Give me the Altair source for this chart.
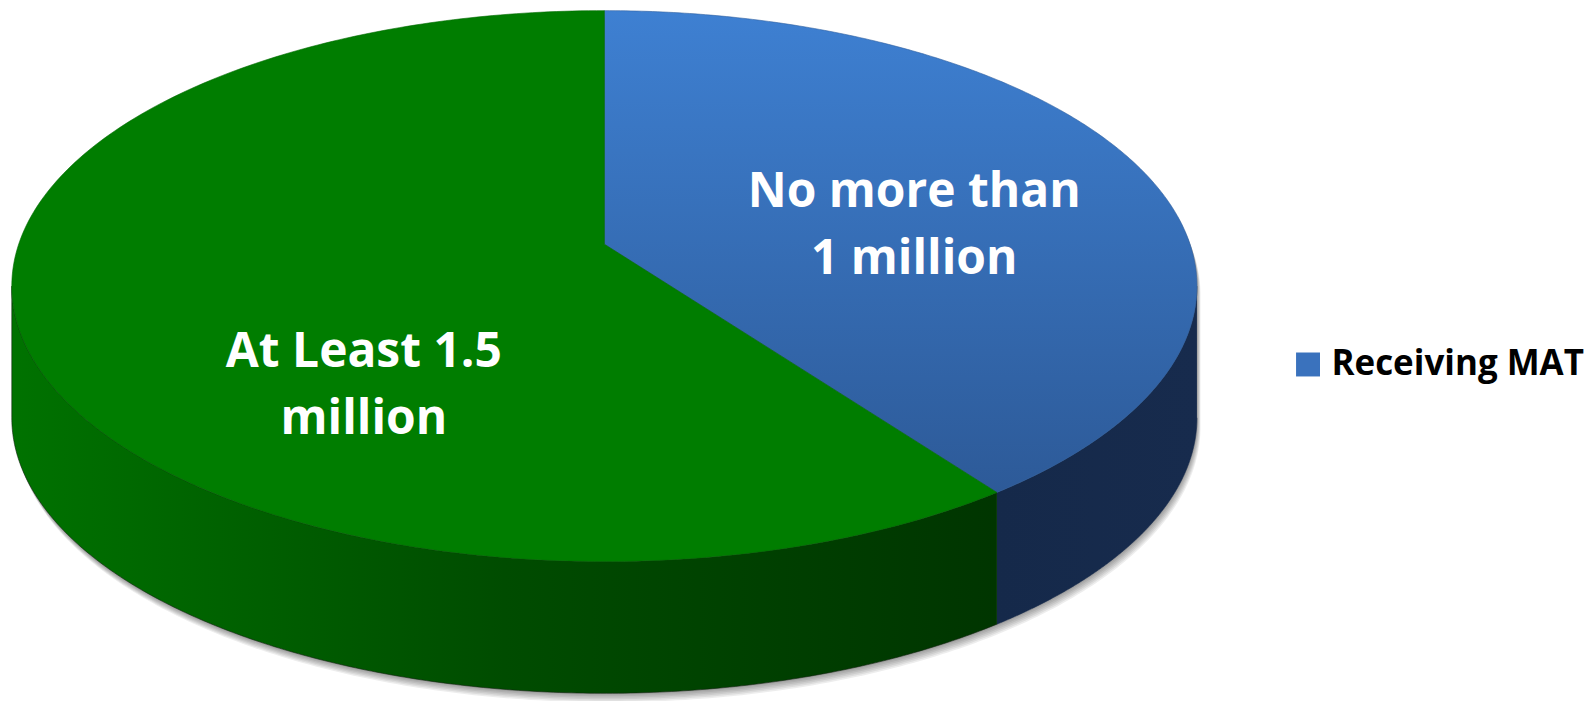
import numpy as np
import pandas as pd
import altair as alt

# ---------------- data ----------------
categories = ["No more than 1 million", "At Least 1.5 million"]
values = [1.0, 1.5]                      # millions of people
label_lines = [["No more than", "1 million"], ["At Least 1.5", "million"]]
series_name = ["Receiving MAT"]

# ---------------- layout (pie geometry, pixels in plot space) ----------------
W, H = 1577, 685
CX, CY = 596.5, 234.0        # projected centre of the disc
A, B, P = 586.8, 269.6, 0.152  # horizontal / vertical radius, perspective
DEPTH = 132                  # thickness of the 3D wall
N = 240
LABEL_POLAR = [(75.5, 0.558), (222.0, 0.574)]   # label anchor (deg, radius frac)
FONT = "Open Sans"

top_fill = [
    alt.Gradient(gradient="linear", x1=0, x2=0, y1=0, y2=1,
                 stops=[alt.GradientStop(color="#3e80d2", offset=0),
                        alt.GradientStop(color="#2d5a98", offset=1)]),
    alt.Gradient(gradient="linear", x1=0, x2=0, y1=0, y2=1,
                 stops=[alt.GradientStop(color="#007d00", offset=0),
                        alt.GradientStop(color="#007d00", offset=1)]),
]
side_fill = [
    alt.Gradient(gradient="linear", x1=0, x2=1, y1=0, y2=0,
                 stops=[alt.GradientStop(color="#15294a", offset=0),
                        alt.GradientStop(color="#172b4d", offset=1)]),
    alt.Gradient(gradient="linear", x1=0, x2=1, y1=0, y2=0,
                 stops=[alt.GradientStop(color="#007200", offset=0),
                        alt.GradientStop(color="#004c00", offset=0.5),
                        alt.GradientStop(color="#003500", offset=1)]),
]
edge_col = ["#2f5f9f", "#006a00"]


def proj(theta):
    u = np.sin(theta)
    v = np.cos(theta)
    s = 1 + P * v
    return CX + A * u / s, CY - B * v / s


fr = np.array(values) / np.sum(values)
ends = np.cumsum(fr) * 2 * np.pi
starts = ends - fr * 2 * np.pi
ts = np.arccos(-P)                 # right silhouette
tl = 2 * np.pi - ts                # left silhouette

rows = []


def add(part, xs, ys):
    for i, (x, y) in enumerate(zip(xs, ys)):
        rows.append({"part": part, "i": i, "x": float(x), "y": float(y)})


# outline for the shadow
th_up = np.linspace(-ts, ts, N)
th_lo = np.linspace(ts, tl, N)
ux, uy = proj(th_up)
lx, ly = proj(th_lo)
ox = np.concatenate([ux, lx])
oy = np.concatenate([uy, ly + DEPTH])
NSH = 6
for k in range(1, NSH + 1):
    add(f"shadow{k}", ox + 0.6 * k, oy + 1.5 * k)

for j in range(len(values)):
    a0, a1 = starts[j], ends[j]
    th = np.linspace(a0, a1, N)
    x, y = proj(th)
    add(f"top{j}", np.concatenate([[CX], x, [CX]]), np.concatenate([[CY], y, [CY]]))
    b0, b1 = max(a0, ts), min(a1, tl)
    if b1 > b0:
        th = np.linspace(b0, b1, N)
        x, y = proj(th)
        add(f"side{j}", np.concatenate([x, x[::-1]]), np.concatenate([y, (y + DEPTH)[::-1]]))

geo = pd.DataFrame(rows)

lab_rows = []
for j in range(len(values)):
    ang, r = LABEL_POLAR[j]
    t = np.deg2rad(ang)
    u, v = r * np.sin(t), r * np.cos(t)
    s = 1 + P * v
    lab_rows.append({"label": label_lines[j], "x": CX + A * u / s, "y": CY - B * v / s})
labs = pd.DataFrame(lab_rows)

xs = alt.Scale(domain=[0, W], nice=False, zero=False)
ys = alt.Scale(domain=[0, H], nice=False, zero=False, reverse=True)


def poly(part, fill, stroke, sw=0.8, opacity=1.0):
    return alt.Chart(geo).transform_filter(alt.datum.part == part).mark_line(
        fill=fill, stroke=stroke, strokeWidth=sw, opacity=opacity, interpolate="linear"
    ).encode(
        x=alt.X("x:Q", scale=xs, axis=None),
        y=alt.Y("y:Q", scale=ys, axis=None),
        order=alt.Order("i:Q"),
    )


layers = []
for k in range(NSH, 0, -1):
    layers.append(poly(f"shadow{k}", "#000000", "#000000", sw=0, opacity=0.07))
parts = set(geo["part"])
for j in range(len(values)):
    if f"side{j}" in parts:
        layers.append(poly(f"side{j}", side_fill[j], "#10220f" if j else "#14284a", sw=0.6))
for j in range(len(values)):
    layers.append(poly(f"top{j}", top_fill[j], edge_col[j], sw=0.6))

text = alt.Chart(labs).mark_text(
    font=FONT, fontSize=48, fontWeight="bold", color="white",
    align="center", baseline="alphabetic", lineHeight=67,
).encode(
    x=alt.X("x:Q", scale=xs, axis=None),
    y=alt.Y("y:Q", scale=ys, axis=None),
    text="label",
)
layers.append(text)

legend_layer = alt.Chart(pd.DataFrame({"series": series_name})).mark_square(
    opacity=0, size=1
).encode(
    x=alt.value(0), y=alt.value(0),
    color=alt.Color("series:N", scale=alt.Scale(range=["#3a72bd"]),
                    legend=alt.Legend(title=None, orient="none", legendX=1284, legendY=337,
                                      symbolType="square", symbolSize=576, symbolOpacity=1,
                                      symbolStrokeWidth=0, labelFont=FONT, labelFontSize=35,
                                      labelFontWeight="bold", labelColor="black",
                                      labelOffset=6, labelLimit=500, padding=0)),
)
layers.append(legend_layer)

chart = alt.layer(*layers).properties(width=W, height=H, padding=0).configure_view(
    strokeWidth=0
)

chart.save("out.html", embed_options={"renderer": "svg", "actions": False})
